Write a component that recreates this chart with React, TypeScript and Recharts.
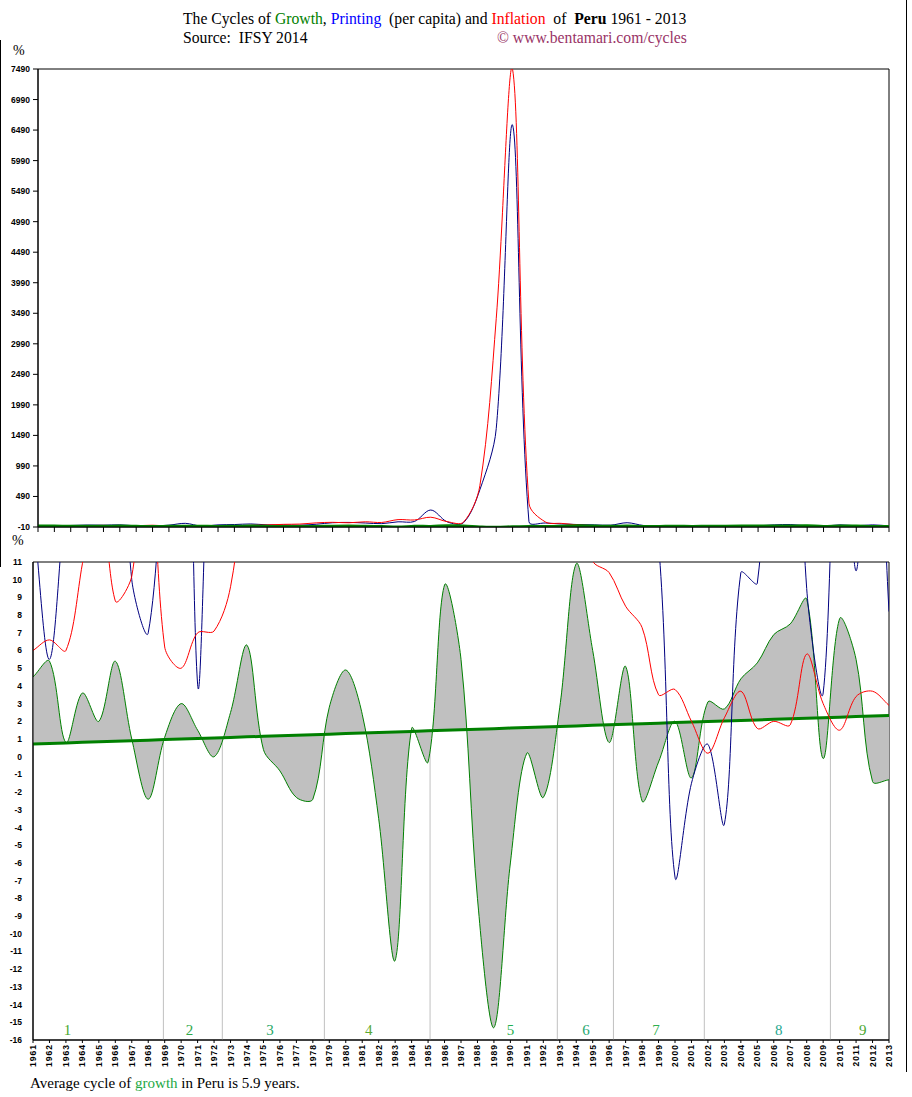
import React from 'react';
import {
  ComposedChart,
  Line,
  Area,
  XAxis,
  YAxis,
  ReferenceLine,
  ReferenceArea,
  ReferenceDot,
} from 'recharts';

// ---------- data ----------
const years = [
  1961, 1962, 1963, 1964, 1965, 1966, 1967, 1968, 1969, 1970,
  1971, 1972, 1973, 1974, 1975, 1976, 1977, 1978, 1979, 1980,
  1981, 1982, 1983, 1984, 1985, 1986, 1987, 1988, 1989, 1990,
  1991, 1992, 1993, 1994, 1995, 1996, 1997, 1998, 1999, 2000,
  2001, 2002, 2003, 2004, 2005, 2006, 2007, 2008, 2009, 2010,
  2011, 2012, 2013,
];

const growth = [
  4.5, 5.4, 0.8, 3.6, 2.0, 5.4, 1.0, -2.4, 1.1, 3.0,
  1.5, 0.0, 2.5, 6.3, 0.4, -0.8, -2.3, -2.4, 2.8, 4.9,
  2.4, -3.5, -11.5, 1.6, -0.3, 9.7, 5.5, -8.0, -15.3, -6.0,
  0.2, -2.3, 2.8, 10.9, 6.0, 0.8, 5.1, -2.5, -0.3, 2.0,
  -1.2, 3.1, 2.7, 4.4, 5.3, 6.9, 7.5, 8.9, -0.1, 7.8,
  5.5, -1.4, -1.3,
];

const printing = [
  14, 5.5, 15, 22, 20, 25, 10.0, 7.0, 20, 50,
  4.1, 25, 30, 40, 25, 25, 20, 35, 60, 65,
  55, 45, 75, 80, 268, 75, 60, 600, 1600, 6570,
  77, 55, 40, 30, 25, 20, 60, 15, 12, -6.8,
  -1.5, 0.7, -3.8, 10.4, 9.8, 25, 30, 9.5, 3.6, 25,
  10.5, 25, 8.2,
];

const inflation = [
  6.0, 6.6, 6.0, 10.9, 16.3, 8.8, 10.2, 19.0, 6.2, 5.0,
  7.0, 7.1, 9.6, 16.9, 23.6, 33.5, 38.0, 57.8, 66.7, 59.2,
  75.4, 64.4, 111.1, 105, 150, 77.9, 70, 667, 3400, 7482,
  380, 73.5, 48.6, 23.7, 11.1, 10.4, 8.5, 7.3, 3.5, 3.8,
  2.0, 0.2, 2.2, 3.7, 1.6, 2.0, 1.8, 5.8, 3.0, 1.5,
  3.4, 3.7, 2.9,
];

const trendStart = 0.72; // growth trend at 1961
const trendEnd = 2.33; // growth trend at 2013

const topTicks = [-10, 490, 990, 1490, 1990, 2490, 2990, 3490, 3990, 4490, 4990, 5490, 5990, 6490, 6990, 7490];
const bottomTicks = [11, 10, 9, 8, 7, 6, 5, 4, 3, 2, 1, 0, -1, -2, -3, -4, -5, -6, -7, -8, -9, -10, -11, -12, -13, -14, -15, -16];

const cycleBoundaries = [1968.92, 1972.5, 1978.7, 1985.12, 1992.85, 1996.26, 2001.78, 2009.44];
const cycleNames = ['1', '2', '3', '4', '5', '6', '7', '8', '9'];
const cycleLabelYears = [1963.1, 1970.5, 1975.4, 1981.4, 1990.0, 1994.6, 1998.85, 2006.3, 2011.4];
const cycleColors = ['#4aa82e', '#2fa84a', '#1fa866', '#5aa830', '#1fb050', '#1fa870', '#2fb050', '#1fa890', '#4aa830'];

// ---------- helpers ----------
const firstYear = years[0];
const lastYear = years[years.length - 1];
const trendAt = (yr: number) => trendStart + ((trendEnd - trendStart) * (yr - firstYear)) / (lastYear - firstYear);

const rows = years.map((yr, i) => ({
  year: yr,
  growth: growth[i],
  printing: printing[i],
  inflation: inflation[i],
  trend: trendAt(yr),
  band: [trendAt(yr), growth[i]],
}));

// Excel-like smoothed curve (bezier with chord-scaled tangents)
const excelCurve: any = (context: any) => {
  let xs: number[] = [];
  let ys: number[] = [];
  let line = NaN;
  return {
    areaStart() {
      line = 0;
    },
    areaEnd() {
      line = NaN;
    },
    lineStart() {
      xs = [];
      ys = [];
    },
    point(x: number, y: number) {
      xs.push(+x);
      ys.push(+y);
    },
    lineEnd() {
      const n = xs.length;
      if (n > 0) {
        if (line) context.lineTo(xs[0], ys[0]);
        else context.moveTo(xs[0], ys[0]);
        if (n === 2) context.lineTo(xs[1], ys[1]);
        else if (n > 2) {
          for (let i = 0; i < n - 1; i++) {
            const i0 = Math.max(i - 1, 0);
            const i3 = Math.min(i + 2, n - 1);
            const x0 = xs[i0], y0 = ys[i0];
            const x1 = xs[i], y1 = ys[i];
            const x2 = xs[i + 1], y2 = ys[i + 1];
            const x3 = xs[i3], y3 = ys[i3];
            const d01 = Math.hypot(x1 - x0, y1 - y0);
            const d12 = Math.hypot(x2 - x1, y2 - y1);
            const d23 = Math.hypot(x3 - x2, y3 - y2);
            const f1 = d01 + d12 > 0 ? d12 / (d01 + d12) / 3 : 0;
            const f2 = d12 + d23 > 0 ? d12 / (d12 + d23) / 3 : 0;
            context.bezierCurveTo(
              x1 + (x2 - x0) * f1,
              y1 + (y2 - y0) * f1,
              x2 - (x3 - x1) * f2,
              y2 - (y3 - y1) * f2,
              x2,
              y2
            );
          }
        }
      }
      if (line || (line !== 0 && n === 1)) context.closePath();
      line = 1 - line;
    },
  };
};

const axisFont = { fontFamily: 'Liberation Sans, Arial, sans-serif', fontWeight: 700 as const, fontSize: 8.5 };

const YTick = (props: any) => {
  const { x, y, payload } = props;
  return (
    <text x={x} y={y} dy="0.35em" textAnchor="end" fill="#000" {...axisFont}>
      {payload.value}
    </text>
  );
};

const EmptyTick = () => <g />;

const XTick = (props: any) => {
  const { x, y, payload } = props;
  return (
    <text
      x={x}
      y={y}
      dy="0.35em"
      textAnchor="end"
      fill="#000"
      letterSpacing={1}
      transform={`rotate(-90 ${x} ${y})`}
      {...axisFont}
    >
      {payload.value}
    </text>
  );
};

const serif = 'Liberation Serif, "Times New Roman", serif';

export default function App() {
  return (
    <div style={{ position: 'absolute', left: 0, top: 0, width: 912, height: 1097, background: '#fff', fontFamily: serif }}>
      {/* frame lines */}
      <div style={{ position: 'absolute', left: 906, top: 0, width: 1, height: 1072, background: '#000' }} />
      <div style={{ position: 'absolute', left: 0, top: 40, width: 1, height: 527, background: '#000' }} />

      {/* title */}
      <div style={{ position: 'absolute', left: 183, top: 10, fontSize: 15.7, lineHeight: '18px', whiteSpace: 'pre', color: '#000' }}>
        The Cycles of <span style={{ color: '#008000' }}>Growth</span>, <span style={{ color: '#0000ff' }}>Printing</span>  (per capita) and{' '}
        <span style={{ color: '#ff0000' }}>Inflation</span>  of  <b>Peru</b> 1961 - 2013
      </div>
      <div style={{ position: 'absolute', left: 183, top: 29, fontSize: 15.7, lineHeight: '18px', whiteSpace: 'pre', color: '#000' }}>
        Source:  IFSY 2014
      </div>
      <div style={{ position: 'absolute', left: 497, top: 29, fontSize: 15.7, lineHeight: '18px', whiteSpace: 'pre', color: '#993366' }}>
        © www.bentamari.com/cycles
      </div>
      <div style={{ position: 'absolute', left: 13, top: 43, fontSize: 14, lineHeight: '16px', color: '#000' }}>%</div>
      <div style={{ position: 'absolute', left: 12, top: 533, fontSize: 14, lineHeight: '16px', color: '#000' }}>%</div>

      {/* top chart */}
      <div style={{ position: 'absolute', left: 0, top: 0 }}>
        <ComposedChart width={912} height={560} data={rows} margin={{ top: 69, right: 23, bottom: 25, left: 0 }}>
          <XAxis
            dataKey="year"
            type="number"
            domain={[firstYear, lastYear]}
            ticks={years}
            interval={0}
            height={8}
            tickSize={5}
            tick={EmptyTick}
            axisLine={{ stroke: '#000' }}
            tickLine={{ stroke: '#000' }}
            allowDataOverflow
          />
          <YAxis
            type="number"
            domain={[-10, 7490]}
            ticks={topTicks}
            interval={0}
            width={38}
            tickSize={5}
            tickMargin={3}
            tick={YTick}
            axisLine={{ stroke: '#000' }}
            tickLine={{ stroke: '#000' }}
            allowDataOverflow
          />
          <ReferenceArea x1={firstYear} x2={lastYear} y1={-10} y2={7490} fill="none" stroke="#000" strokeWidth={1} />
          <Line dataKey="printing" type={excelCurve} stroke="#000080" strokeWidth={1} dot={false} activeDot={false} isAnimationActive={false} />
          <Line dataKey="inflation" type={excelCurve} stroke="#ff0000" strokeWidth={1} dot={false} activeDot={false} isAnimationActive={false} />
          <Line dataKey="growth" type={excelCurve} stroke="#008000" strokeWidth={3} dot={false} activeDot={false} isAnimationActive={false} />
        </ComposedChart>
      </div>

      {/* bottom chart */}
      <div style={{ position: 'absolute', left: 0, top: 540 }}>
        <ComposedChart width={912} height={545} data={rows} margin={{ top: 22, right: 23, bottom: 15, left: 0 }}>
          <XAxis
            dataKey="year"
            type="number"
            domain={[firstYear, lastYear]}
            ticks={years}
            interval={0}
            height={30}
            tickSize={3}
            tickMargin={1}
            tick={XTick}
            axisLine={{ stroke: '#000' }}
            tickLine={{ stroke: '#000' }}
            allowDataOverflow
          />
          <YAxis
            type="number"
            domain={[-16, 11]}
            ticks={bottomTicks}
            interval={0}
            width={33}
            tickSize={6}
            tickMargin={5}
            tickLine={false}
            tick={YTick}
            axisLine={{ stroke: '#000' }}
            allowDataOverflow
          />
          <ReferenceArea x1={firstYear} x2={lastYear} y1={-16} y2={11} fill="none" stroke="#000" strokeWidth={1} />
          <Area
            dataKey="band"
            type={excelCurve}
            stroke="none"
            fill="#c0c0c0"
            fillOpacity={1}
            dot={false}
            activeDot={false}
            isAnimationActive={false}
          />
          {cycleBoundaries.map((b) => (
            <ReferenceLine
              key={'cb' + b}
              segment={[
                { x: b, y: trendAt(b) },
                { x: b, y: -16 },
              ]}
              stroke="#c0c0c0"
              strokeWidth={1}
            />
          ))}
          <Line dataKey="trend" type="linear" stroke="#008000" strokeWidth={3} dot={false} activeDot={false} isAnimationActive={false} />
          <Line dataKey="growth" type={excelCurve} stroke="#008000" strokeWidth={1} dot={false} activeDot={false} isAnimationActive={false} />
          <Line dataKey="printing" type={excelCurve} stroke="#000080" strokeWidth={1} dot={false} activeDot={false} isAnimationActive={false} />
          <Line dataKey="inflation" type={excelCurve} stroke="#ff0000" strokeWidth={1} dot={false} activeDot={false} isAnimationActive={false} />
          {cycleNames.map((nm, i) => (
            <ReferenceDot
              key={'cl' + nm}
              x={cycleLabelYears[i]}
              y={-15.4}
              r={0}
              fill="none"
              stroke="none"
              label={{ value: nm, position: 'center', fill: cycleColors[i], fontSize: 15, fontFamily: serif }}
            />
          ))}
        </ComposedChart>
      </div>

      {/* footer */}
      <div style={{ position: 'absolute', left: 30, top: 1075, fontSize: 15, lineHeight: '17px', whiteSpace: 'pre', color: '#000' }}>
        Average cycle of <span style={{ color: '#22a844' }}>growth</span> in Peru is 5.9 years.
      </div>
    </div>
  );
}
